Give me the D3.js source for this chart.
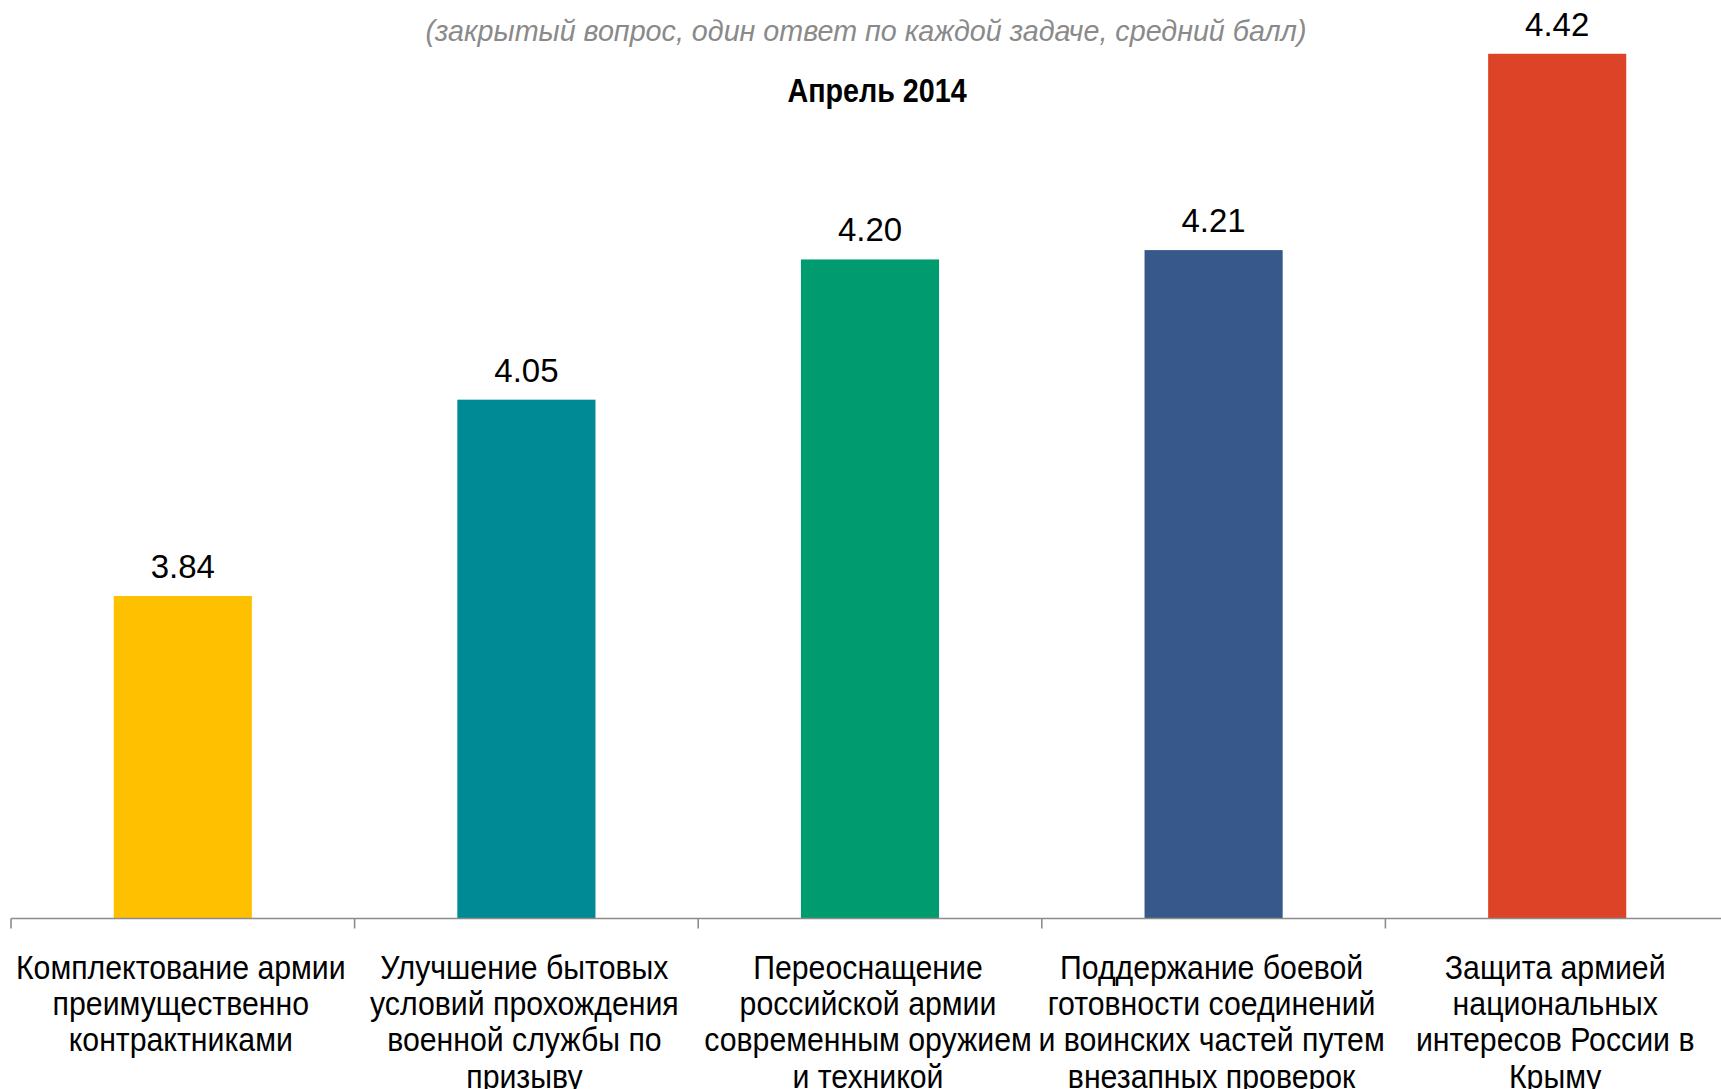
<!DOCTYPE html>
<html><head><meta charset="utf-8">
<script src="https://cdn.jsdelivr.net/npm/d3@7"></script>
<style>
html,body{margin:0;padding:0;background:#fff;}
svg{display:block;}
</style></head>
<body>
<svg id="chart" width="1721" height="1089"></svg>
<script>
const categories = [
  ["Комплектование армии", "преимущественно", "контрактниками"],
  ["Улучшение бытовых", "условий прохождения", "военной службы по", "призыву"],
  ["Переоснащение", "российской армии", "современным оружием", "и техникой"],
  ["Поддержание боевой", "готовности соединений", "и воинских частей путем", "внезапных проверок"],
  ["Защита армией", "национальных", "интересов России в", "Крыму"]
];
const values = [3.84, 4.05, 4.20, 4.21, 4.42];
const valueLabels = ["3.84", "4.05", "4.20", "4.21", "4.42"];
const colors = ["#FFC000", "#008A96", "#009B6F", "#36588A", "#DD4427"];
const subtitle = "(закрытый вопрос, один ответ по каждой задаче, средний балл)";
const periodLabel = "Апрель 2014";

const svg = d3.select("#chart");
const keys = categories.map((c, i) => i);
const x = d3.scaleBand().domain(keys).range([11, 11 + 5 * 343.6]).padding(0);
const yMin = 3.495;
const y = d3.scaleLinear().domain([yMin, 4.5]).range([918.5, -21]);
const barFrac = 0.402;

svg.append("g").selectAll("rect").data(values).join("rect")
  .attr("x", (d, i) => x(i) + x.bandwidth() * (1 - barFrac) / 2)
  .attr("width", x.bandwidth() * barFrac)
  .attr("y", d => y(d))
  .attr("height", d => y(yMin) - y(d))
  .attr("fill", (d, i) => colors[i]);

// axis
const axisY = y(yMin);
svg.append("line").attr("x1", 11).attr("x2", 1721).attr("y1", axisY).attr("y2", axisY)
  .attr("stroke", "#8c8c8c").attr("stroke-width", 1.6);
const bounds = keys.map(k => x(k)).concat([x.range()[1]]);
svg.append("g").selectAll("line").data(bounds).join("line")
  .attr("x1", d => d).attr("x2", d => d)
  .attr("y1", axisY).attr("y2", axisY + 10)
  .attr("stroke", "#8c8c8c").attr("stroke-width", 1.6);

// value labels
svg.append("g").selectAll("text").data(values).join("text")
  .attr("x", (d, i) => x(i) + x.bandwidth() / 2)
  .attr("y", d => y(d) - 18)
  .attr("text-anchor", "middle")
  .attr("font-family", "'Liberation Sans', Arial, sans-serif")
  .attr("font-size", 33)
  .attr("fill", "#000")
  .text((d, i) => valueLabels[i]);

// category labels (condensed via horizontal scale)
const sx = 0.917;
const catG = svg.append("g").attr("transform", `scale(${sx},1)`);
categories.forEach((lines, i) => {
  const t = catG.append("text")
    .attr("text-anchor", "middle")
    .attr("font-family", "'Liberation Sans', Arial, sans-serif")
    .attr("font-size", 33)
    .attr("fill", "#000");
  lines.forEach((ln, j) => {
    t.append("tspan").attr("x", (x(i) + x.bandwidth() / 2 - 2) / sx).attr("y", 979 + j * 36.2).text(ln);
  });
});

// subtitle
svg.append("text").attr("x", 866).attr("y", 41)
  .attr("text-anchor", "middle")
  .attr("font-family", "'Liberation Sans', Arial, sans-serif")
  .attr("font-style", "italic")
  .attr("font-size", 28.7)
  .attr("fill", "#8a8a8a")
  .text(subtitle);

const tsx = 0.87;
svg.append("g").attr("transform", `scale(${tsx},1)`)
  .append("text").attr("x", 877 / tsx).attr("y", 102)
  .attr("text-anchor", "middle")
  .attr("font-family", "'Liberation Sans', Arial, sans-serif")
  .attr("font-weight", "bold")
  .attr("font-size", 33)
  .attr("fill", "#000")
  .text(periodLabel);
</script>
</body></html>
